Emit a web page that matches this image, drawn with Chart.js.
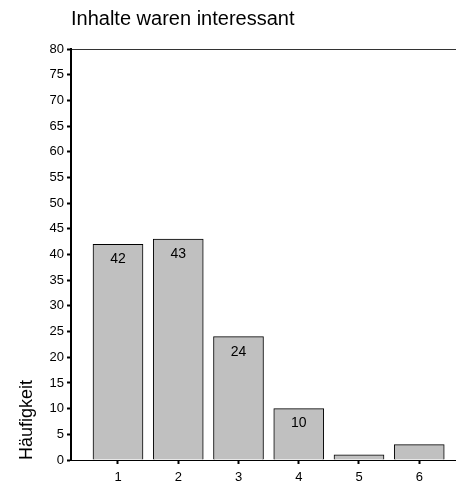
<!DOCTYPE html>
<html>
<head>
<meta charset="utf-8">
<script src="https://cdn.jsdelivr.net/npm/chart.js@4/dist/chart.umd.min.js"></script>
<style>
  html, body { margin: 0; padding: 0; background: #fff; }
  #wrap { width: 456px; height: 482px; }
</style>
</head>
<body>
<div id="wrap"><canvas id="myChart"></canvas></div>
<script>
// answers 1..6 and how often each was chosen
var categories = [1, 2, 3, 4, 5, 6];
var counts = [42, 43, 24, 10, 1, 3];
var yTicks = [0, 5, 10, 15, 20, 25, 30, 35, 40, 45, 50, 55, 60, 65, 70, 75, 80];

var points = categories.map(function (c, i) { return { x: c, y: counts[i] }; });
var FONT = '"Liberation Sans", Arial, sans-serif';

// numbers inside the bars
var barLabels = {
  id: 'barLabels',
  afterDatasetsDraw: function (chart) {
    var ctx = chart.ctx;
    var meta = chart.getDatasetMeta(0);
    ctx.save();
    ctx.font = '14px ' + FONT;
    ctx.fillStyle = '#000';
    ctx.textAlign = 'center';
    ctx.textBaseline = 'middle';
    meta.data.forEach(function (bar, i) {
      if (bar.base - bar.y < 25) return;
      ctx.fillText(String(counts[i]), bar.x, bar.y + 15);
    });
    ctx.restore();
  }
};

new Chart('myChart', {
  type: 'bar',
  data: {
    datasets: [{
      data: points,
      backgroundColor: '#c0c0c0',
      borderColor: '#000',
      borderWidth: 1,
      barThickness: 50
    }]
  },
  options: {
    responsive: true,
    maintainAspectRatio: false,
    animation: false,
    layout: { padding: { top: 7, right: 0, left: 0, bottom: 0 } },
    plugins: {
      legend: { display: false },
      tooltip: { enabled: false },
      title: {
        display: true,
        text: 'Inhalte waren interessant',
        align: 'start',
        fullSize: false,
        color: '#000',
        font: { family: FONT, size: 20, weight: 'normal' },
        padding: { top: 0, bottom: 18 }
      }
    },
    scales: {
      x: {
        type: 'linear',
        min: 0.22,
        max: 6.61,
        offset: false,
        afterFit: function (s) { s.height = 22; },
        afterBuildTicks: function (s) {
          s.ticks = categories.map(function (v) { return { value: v }; });
        },
        ticks: {
          color: '#000',
          padding: 6,
          maxRotation: 0,
          font: { family: FONT, size: 13 }
        },
        grid: {
          offset: false,
          drawOnChartArea: false,
          tickLength: 4,
          tickWidth: 2,
          tickColor: '#000'
        },
        border: { color: '#000', width: 1 }
      },
      y: {
        min: 0,
        max: 80,
        afterFit: function (s) { s.width = 71; },
        afterBuildTicks: function (s) {
          s.ticks = yTicks.map(function (v) { return { value: v }; });
        },
        ticks: {
          color: '#000',
          padding: 3,
          font: { family: FONT, size: 13 }
        },
        grid: {
          color: function (c) { return c.tick && c.tick.value === 80 ? '#333' : 'rgba(0,0,0,0)'; },
          lineWidth: 1,
          tickLength: 4,
          tickWidth: 2,
          tickColor: '#000'
        },
        border: { color: '#000', width: 2 },
        title: {
          display: true,
          text: 'Häufigkeit',
          align: 'start',
          color: '#000',
          padding: { top: 16, bottom: 0 },
          font: { family: FONT, size: 18 }
        }
      }
    }
  },
  plugins: [barLabels]
});
</script>
</body>
</html>
